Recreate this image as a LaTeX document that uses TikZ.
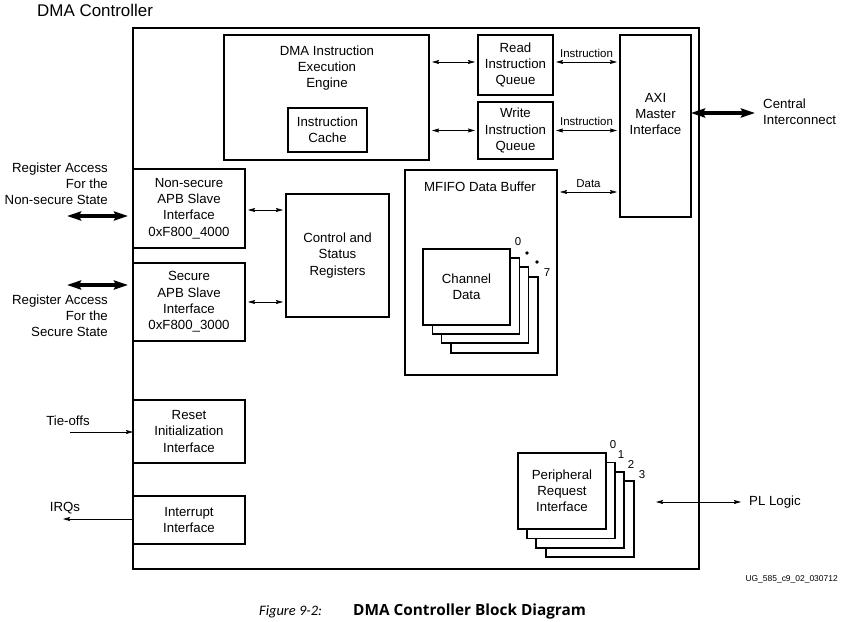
\documentclass[tikz,border=0pt]{standalone}
\usepackage{fontspec}
\setmainfont{Liberation Sans}
\newfontfamily\capfont{Carlito}
\newfontfamily\capbold{Open Sans}
\usetikzlibrary{arrows.meta}
\begin{document}
\begin{tikzpicture}[x=1bp,y=-1bp,
  box/.style={draw=black, line width=1.6bp, fill=white, inner sep=0pt, outer sep=0pt, align=center,
     font=\fontsize{13.3}{16.3}\selectfont},
  lbl/.style={inner sep=0pt, font=\fontsize{13.3}{16.3}\selectfont},
  small/.style={inner sep=0pt, font=\fontsize{11.5}{13}\selectfont},
  tarr/.style={line width=0.8bp, {Stealth[length=7bp,width=4bp,inset=1bp]}-{Stealth[length=7bp,width=4bp,inset=1bp]}},
  tone/.style={line width=0.8bp, -{Stealth[length=7bp,width=4bp,inset=1bp]}},
  thk/.style={line width=3.3bp, {Stealth[length=14bp,width=9bp,inset=2bp]}-{Stealth[length=14bp,width=9bp,inset=2bp]}},
]
\useasboundingbox (0,0) rectangle (841,622);
\fill[white] (0,0) rectangle (841,622);

% title
\node[inner sep=0pt, anchor=west, font=\fontsize{17}{19}\selectfont] (title) at (37,10) {DMA Controller};

% outer box
\node[draw, line width=2bp, inner sep=0pt, outer sep=0pt, minimum width=566bp, minimum height=541bp] (outer) at (416,298.5) {};

% instruction engine
\node[box, minimum width=205bp, minimum height=125bp] (eng) at (326.5,97.5) {};
\node[lbl, align=center] (engt) at (327,68) {DMA Instruction\\Execution\\Engine};
\node[box, minimum width=79bp, minimum height=44bp] (cache) at (327.5,130) {Instruction\\Cache};

% queues
\node[box, minimum width=75bp, minimum height=60bp] (rq) at (515.5,65) {Read\\Instruction\\Queue};
\node[box, minimum width=75bp, minimum height=57bp] (wq) at (515.5,130.5) {Write\\Instruction\\Queue};

% AXI
\node[box, minimum width=71bp, minimum height=182bp] (axi) at (655.5,126) {};
\node[lbl, align=center] (axit) at (655.5,114) {AXI\\Master\\Interface};

% MFIFO
\node[box, minimum width=152bp, minimum height=205bp] (mfifo) at (481,272.5) {};
\node[lbl] (mfifot) at (480,187) {MFIFO Data Buffer};

% channel stack
\node[box, minimum width=87bp, minimum height=76bp] (ch3) at (494.5,315) {};
\node[box, minimum width=87bp, minimum height=76bp] (ch2) at (485,305) {};
\node[box, minimum width=87bp, minimum height=76bp] (ch1) at (476,296) {};
\node[box, minimum width=87bp, minimum height=76bp] (ch0) at (466.5,287) {Channel\\Data};
\node[small] (ch0l) at (518,242) {0};
\fill (527,253) circle (1.8bp);
\fill (537,262) circle (1.8bp);
\node[small] (ch7l) at (547,273) {7};

% APB interfaces
\node[box, minimum width=112bp, minimum height=79bp] (ns) at (189,208.5) {Non-secure\\APB Slave\\Interface\\0xF800\_4000};
\node[box, minimum width=112bp, minimum height=78bp] (sec) at (189,302) {Secure\\APB Slave\\Interface\\0xF800\_3000};
\node[box, minimum width=103bp, minimum height=123bp] (csr) at (337.5,255.5) {Control and\\Status\\Registers};

% reset, interrupt
\node[box, minimum width=112bp, minimum height=63bp] (reset) at (189,431.5) {Reset\\Initialization\\Interface};
\node[box, minimum width=112bp, minimum height=48bp] (irq) at (189,520) {Interrupt\\Interface};

% peripheral stack
\node[box, minimum width=88bp, minimum height=76bp] (pr3) at (590,519) {};
\node[box, minimum width=88bp, minimum height=76bp] (pr2) at (580,510) {};
\node[box, minimum width=88bp, minimum height=76bp] (pr1) at (571,500.5) {};
\node[box, minimum width=88bp, minimum height=76bp] (pr0) at (562,491) {Peripheral\\Request\\Interface};
\node[small] (pr0l) at (613,445) {0};
\node[small] (pr1l) at (621,455) {1};
\node[small] (pr2l) at (631,464) {2};
\node[small] (pr3l) at (642,475) {3};

% internal connectors
\draw[tarr, shorten <=3bp, shorten >=3bp] ([yshift=3bp]eng.east |- rq.west) -- ([yshift=3bp]rq.west);
\draw[tarr, shorten <=3bp, shorten >=3bp] (eng.east |- wq.west) -- (wq.west);
\draw[tarr, shorten <=3bp, shorten >=3bp] ([yshift=3bp]rq.east) -- ([yshift=3bp]axi.west |- rq.east) node[small, midway, above=4bp] (il1) {Instruction};
\draw[tarr, shorten <=3bp, shorten >=3bp] (wq.east) -- (axi.west |- wq.east) node[small, midway, above=4bp] (il2) {Instruction};
\draw[tarr, shorten <=3bp, shorten >=3bp] (mfifo.east |- mfifot.east) ++(0,5) coordinate (dA) -- (axi.west |- dA) node[small, midway, above=4bp] (dl) {Data};
\draw[tarr, shorten <=3bp, shorten >=3bp] ([yshift=-1.5bp]ns.east) -- ([yshift=-1.5bp]csr.west |- ns.east);
\draw[tarr, shorten <=3bp, shorten >=3bp] (sec.east) -- (csr.west |- sec.east);

% external connectors
\coordinate (ciE) at (755,113);
\draw[thk] (axi.east |- ciE) -- (ciE);
\node[lbl, anchor=west, align=left] (ci) at (763,112) {Central\\Interconnect};

\coordinate (nsW) at (67,216);
\draw[thk] (nsW) -- (128,216) coordinate (nsE);
\node[lbl, anchor=east, align=right] (nsl) at (108,184) {Register Access\\For the\\Non-secure State};

\coordinate (secW) at (67,285);
\draw[thk] (secW) -- (128,285) coordinate (secE);
\node[lbl, anchor=east, align=right] (secl) at (108,316) {Register Access\\For the\\Secure State};

\coordinate (tieW) at (70,432);
\draw[tone] (tieW) -- (reset.west |- tieW);
\node[lbl] (tiel) at (68,421) {Tie-offs};

\coordinate (irqW) at (63,519);
\draw[tone] (irq.west |- irqW) -- (irqW);
\node[lbl] (irql) at (65,508) {IRQs};

\coordinate (plW) at (656,502);
\coordinate (plE) at (741,502);
\draw[tarr] (plW) -- (plE);
\node[lbl, anchor=west] (pll) at (749,502) {PL Logic};

% footer
\node[inner sep=0pt, anchor=east, font=\fontsize{8.5}{9}\selectfont] (ug) at (838,579) {UG\_585\_c9\_02\_030712};
\node[inner sep=0pt, anchor=base west, font=\capfont\fontsize{14.5}{16}\selectfont] (capa) at (259,615) {\textit{Figure 9-2:}};
\node[inner sep=0pt, anchor=base west, font=\capbold\fontsize{15.4}{17}\selectfont] (capb) at (353,615) {\textbf{DMA Controller Block Diagram}};
\end{tikzpicture}
\end{document}
